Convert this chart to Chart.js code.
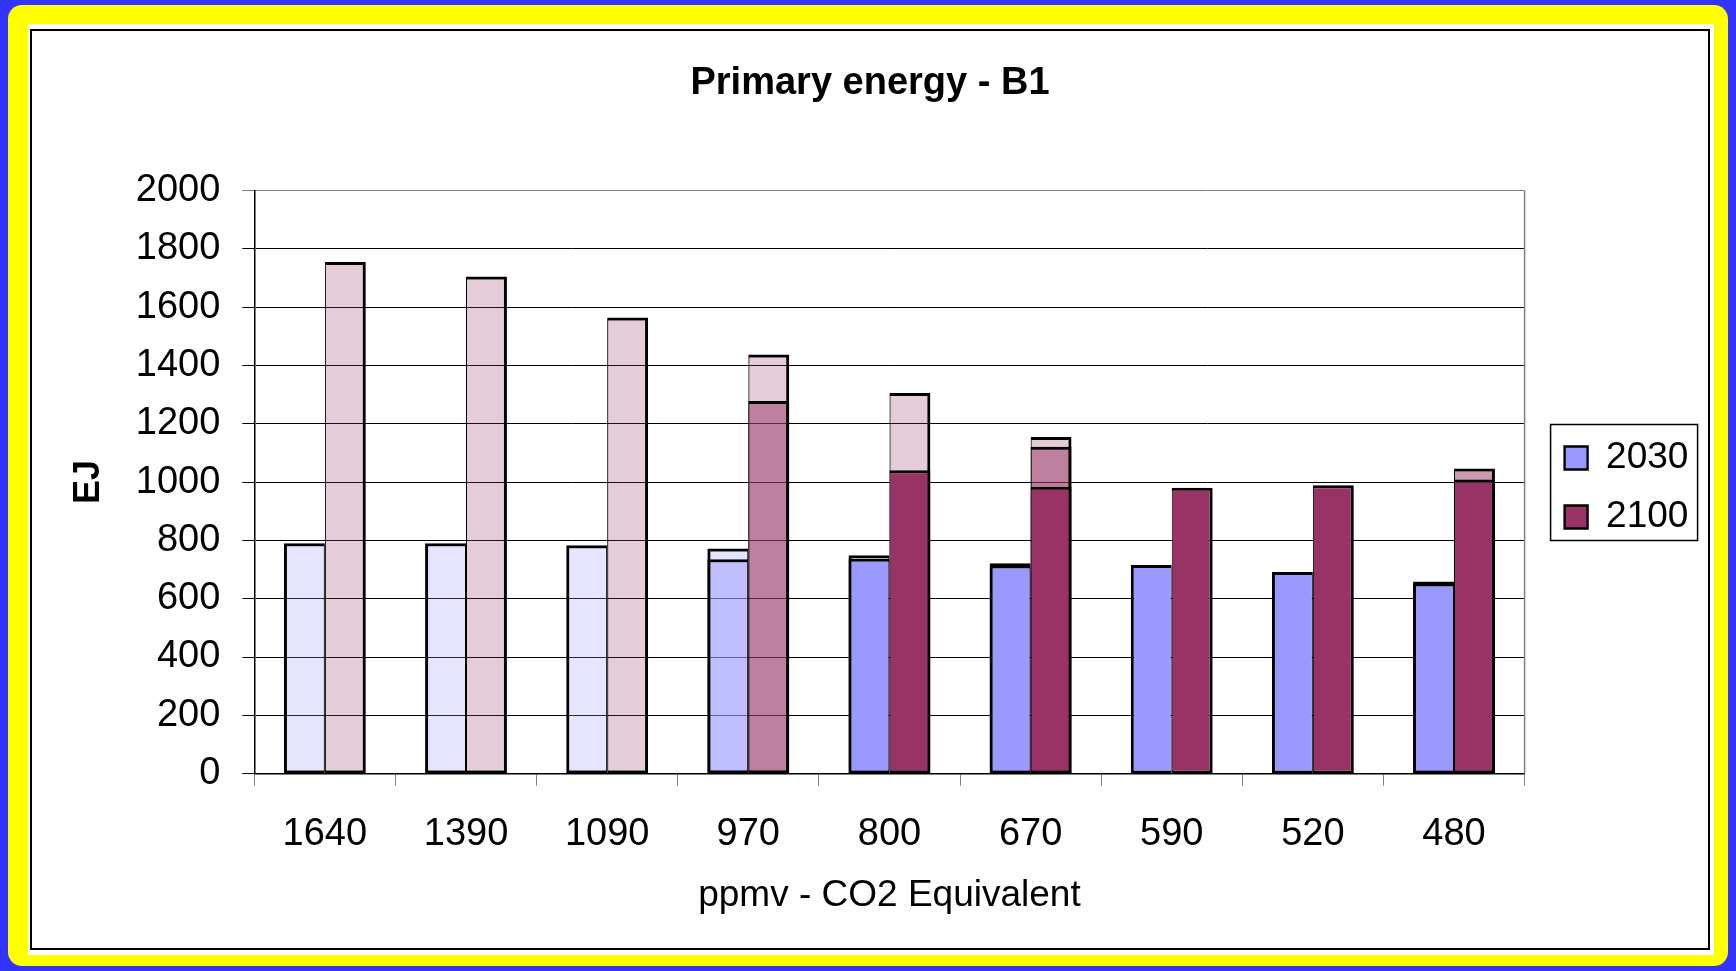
<!DOCTYPE html>
<html>
<head>
<meta charset="utf-8">
<title>Primary energy - B1</title>
<script src="https://cdn.jsdelivr.net/npm/chart.js@4.4.1/dist/chart.umd.min.js"></script>
<style>
  html, body { margin: 0; padding: 0; background: #3333ff; }
  canvas { display: block; }
</style>
</head>
<body>
<canvas id="energyChart" width="1736" height="971"></canvas>
<script>
// Primary energy demand (EJ) per stabilisation level, B1 scenario
// Three runs are overlaid: faint, half-tone and full colour.

// --------- Data ----------
const categories = ["1640", "1390", "1090", "970", "800", "670", "590", "520", "480"];

const faint2030 = [790, 790, 783, 772, 749, 722, null, null, null];
const faint2100 = [1755, 1705, 1565, 1438, 1306, 1155, null, null, null];

const half2030 = [null, null, null, 735, null, null, null, null, 659];
const half2100 = [null, null, null, 1278, null, 1121, null, null, 1047];

const full2030 = [null, null, null, null, 737, 714, 716, 692, 652];
const full2100 = [null, null, null, null, 1041, 984, 981, 989, 1009];

const seriesNames = ["2030", "2100"];
const yMax = 2000;
const yStep = 200;

// --------- Styles ----------
const BLUE = [153, 153, 255];
const PLUM = [153, 51, 102];
const rgba = (c, a) => `rgba(${c[0]},${c[1]},${c[2]},${a})`;
const FONT = "'Liberation Sans', Arial, sans-serif";

Chart.defaults.font.family = FONT;
Chart.defaults.color = "#000";

// the two bars of a pair share a thinner edge
const leftBorder = { top: 3, left: 3, right: 1, bottom: 2.5 };
const rightBorder = { top: 3, left: 1, right: 3, bottom: 2.5 };

function bar(label, data, rgb, alpha, stack) {
  return {
    label,
    data,
    stack,
    backgroundColor: rgba(rgb, alpha),
    borderColor: "#000",
    borderWidth: stack === "a" ? leftBorder : rightBorder,
    borderSkipped: false
  };
}

// first datasets are drawn last, i.e. on top
const datasets = [
  bar(seriesNames[0], full2030, BLUE, 1, "a"),
  bar(seriesNames[1], full2100, PLUM, 1, "b"),
  bar(seriesNames[0], half2030, BLUE, 0.5, "a"),
  bar(seriesNames[1], half2100, PLUM, 0.5, "b"),
  bar(seriesNames[0], faint2030, BLUE, 0.25, "a"),
  bar(seriesNames[1], faint2100, PLUM, 0.25, "b")
];

// --------- Plugins ----------
// yellow slide frame with the white chart panel
const slideFrame = {
  id: "slideFrame",
  beforeDraw(chart) {
    const { ctx, width: w, height: h } = chart;
    ctx.save();
    ctx.fillStyle = "#3333ff";
    ctx.fillRect(0, 0, w, h);
    ctx.fillStyle = "#ffff00";
    ctx.beginPath();
    ctx.roundRect(8, 5, w - 16, h - 10, 14);
    ctx.fill();
    ctx.fillStyle = "#ffffff";
    ctx.fillRect(28, 24, w - 50, h - 40);
    ctx.strokeStyle = "#000";
    ctx.lineWidth = 2;
    ctx.strokeRect(31, 30, w - 58, h - 52);
    ctx.restore();
  },
  beforeDatasetsDraw(chart) {
    // grey right edge of the plot area
    const { ctx, chartArea: a } = chart;
    ctx.save();
    ctx.strokeStyle = "#808080";
    ctx.lineWidth = 1.5;
    ctx.beginPath();
    ctx.moveTo(a.right, a.top);
    ctx.lineTo(a.right, a.bottom);
    ctx.stroke();
    ctx.restore();
  },
  afterLayout(chart) {
    // push the legend a bit away from the plot area
    const lg = chart.legend;
    lg.left += 18; lg.right += 18;
    lg.top -= 3; lg.bottom -= 3;
  },
  afterDraw(chart) {
    const ctx = chart.ctx;
    const lg = chart.legend;
    ctx.save();
    ctx.strokeStyle = "#000";
    ctx.lineWidth = 1.5;
    ctx.strokeRect(lg.left + 8, 424.5, 147, 116);
    ctx.restore();
  }
};

// --------- Chart ----------
new Chart(document.getElementById("energyChart"), {
  type: "bar",
  data: { labels: categories, datasets },
  options: {
    responsive: false,
    animation: false,
    events: [],
    categoryPercentage: 0.58,
    barPercentage: 1,
    layout: { padding: { left: 59.6, right: 55.6, top: 40, bottom: 30 } },
    plugins: {
      title: {
        display: true,
        text: "Primary energy - B1",
        font: { size: 38, weight: "bold" },
        color: "#000",
        padding: { top: 21, bottom: 84 }
      },
      legend: {
        position: "right",
        align: "center",
        labels: {
          font: { size: 37 },
          color: "#000",
          boxWidth: 23,
          boxHeight: 23,
          padding: 22,
          filter: item => item.datasetIndex < 2
        }
      },
      tooltip: { enabled: false }
    },
    scales: {
      x: {
        offset: true,
        grid: {
          offset: true,
          drawOnChartArea: false,
          drawTicks: true,
          tickLength: 12,
          color: "#808080"
        },
        border: { color: "#000", width: 1.5 },
        ticks: { font: { size: 38 }, padding: 26, maxRotation: 0, autoSkip: false },
        title: {
          display: true,
          text: "ppmv - CO2 Equivalent",
          font: { size: 37 },
          padding: { top: 0, bottom: 23.4 }
        },
        afterFit: scale => { scale.height = 167.4; }
      },
      y: {
        stacked: false,
        min: 0,
        max: yMax,
        grid: {
          color: ctx => (ctx.tick && ctx.tick.value === yMax ? "#808080" : "#000"),
          lineWidth: 1,
          tickLength: 12
        },
        border: { color: "#000", width: 1.5 },
        ticks: {
          stepSize: yStep,
          font: { size: 38 },
          padding: 22,
          callback: value => String(value)
        },
        title: {
          display: true,
          text: "EJ",
          font: { size: 36, weight: "bold" },
          padding: { top: 7.8, bottom: 0 }
        },
        afterFit: scale => { scale.width = 194.7; }
      }
    }
  },
  plugins: [slideFrame]
});
</script>
</body>
</html>
